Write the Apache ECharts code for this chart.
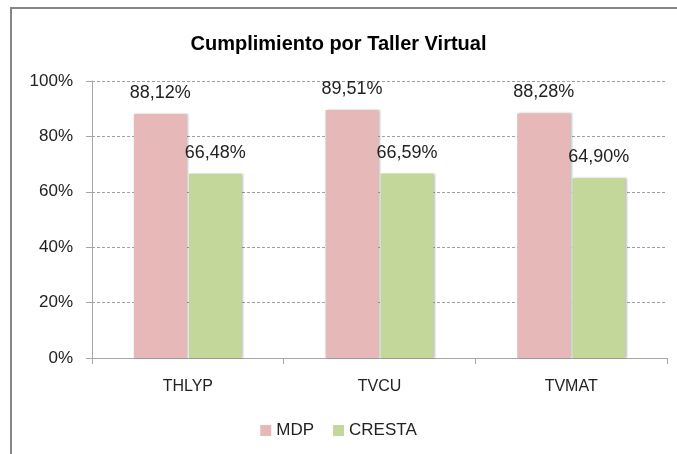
<!DOCTYPE html>
<html>
<head>
<meta charset="utf-8">
<script src="https://cdn.jsdelivr.net/npm/echarts@6/dist/echarts.min.js"></script>
<style>
  html, body { margin: 0; padding: 0; background: #fff; }
  #main { width: 677px; height: 454px; }
</style>
</head>
<body>
<div id="main"></div>
<script>
// datos
var talleres = ['THLYP', 'TVCU', 'TVMAT'];
var mdp = [88.12, 89.51, 88.28];
var cresta = [66.48, 66.59, 64.90];
var yTicks = [0, 20, 40, 60, 80, 100];

var myChart = echarts.init(document.getElementById('main'));

var fuente = 'Liberation Sans, Arial, sans-serif';

function etiqueta(p) {
    return p.value.toFixed(2).replace('.', ',') + '%';
}

var sombra = {
    shadowColor: 'rgba(0,0,0,0.25)',
    shadowBlur: 2,
    shadowOffsetX: 1.5,
    shadowOffsetY: 0
};

var option = {
    animation: false,
    backgroundColor: '#fff',
    textStyle: { fontFamily: fuente },
    title: {
        text: 'Cumplimiento por Taller Virtual',
        left: 'center',
        top: 29,
        textStyle: { fontSize: 20, fontWeight: 'bold', color: '#000', fontFamily: fuente }
    },
    graphic: [{
        type: 'rect',
        shape: { x: 11, y: 8, width: 720, height: 500 },
        style: { fill: 'none', stroke: '#868686', lineWidth: 2 },
        silent: true
    }],
    legend: {
        bottom: 10,
        left: 'center',
        itemWidth: 11,
        itemHeight: 11,
        itemGap: 19,
        icon: 'rect',
        textStyle: { fontSize: 17, color: '#222', fontFamily: fuente },
        data: ['MDP', 'CRESTA']
    },
    grid: { left: 92, right: 10, top: 81, bottom: 96 },
    xAxis: {
        type: 'category',
        data: talleres,
        axisLine: { lineStyle: { color: '#a6a6a6', width: 1 } },
        axisTick: { show: true, length: 6, lineStyle: { color: '#a6a6a6' } },
        axisLabel: { fontSize: 16, color: '#222', margin: 21 }
    },
    yAxis: {
        type: 'value',
        min: yTicks[0],
        max: yTicks[yTicks.length - 1],
        interval: 20,
        axisLine: { show: true, lineStyle: { color: '#a6a6a6' } },
        axisTick: { show: true, length: 6, lineStyle: { color: '#a6a6a6' } },
        axisLabel: { fontSize: 17, color: '#222', margin: 19, formatter: '{value}%' },
        splitLine: { lineStyle: { color: '#a0a0a0', type: [3, 2], width: 1 } }
    },
    series: [{
        name: 'MDP',
        type: 'bar',
        data: mdp,
        barWidth: '27.6%',
        barGap: '4%',
        itemStyle: Object.assign({ color: '#E6B9B8' }, sombra),
        label: { show: true, position: 'top', distance: 12, fontSize: 18, color: '#222', formatter: etiqueta }
    }, {
        name: 'CRESTA',
        type: 'bar',
        data: cresta,
        barWidth: '27.6%',
        itemStyle: Object.assign({ color: '#C4D79B' }, sombra),
        label: { show: true, position: 'top', distance: 12, fontSize: 18, color: '#222', formatter: etiqueta }
    }]
};

myChart.setOption(option);
</script>
</body>
</html>
